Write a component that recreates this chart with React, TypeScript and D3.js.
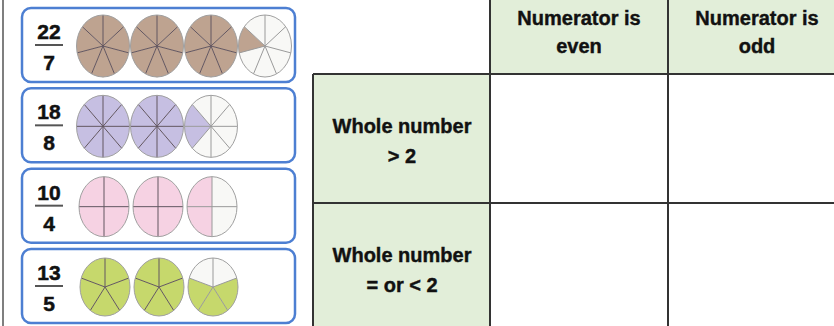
import React from "react";
import * as d3 from "d3";

const numerators = [22, 18, 10, 13];
const denominators = [7, 8, 4, 5];
const fillColors = ["#bea390", "#c6bfe2", "#f6d2e3", "#c6d86c"];
const columnLabels = [["Numerator is", "even"], ["Numerator is", "odd"]];
const rowLabels = [["Whole number", "> 2"], ["Whole number", "= or < 2"]];

const W = 834;
const H = 326;

export default function App() {
  const cardY = d3.scaleLinear().domain([0, 3]).range([8, 249]);
  const circleX = d3.scaleLinear().domain([0, 3]).range([103, 265]);
  const colX = [490, 668, 846];
  const rowY = [74, 203, 340];
  const R = 30;
  const arc = d3.arc<any>().innerRadius(0).outerRadius(R);
  const font = "'Liberation Sans', Arial, sans-serif";

  const isShaded = (d: number, filled: number, s: number) => {
    if (filled === d) return true;
    if (d === 4) return s >= d - filled;
    if (d === 5) return s >= 1 && s < 1 + filled;
    return s >= d - 1 - filled && s < d - 1;
  };

  return (
    <div style={{ position: "absolute", left: 0, top: 0 }}>
      <svg width={W} height={H} style={{ display: "block", background: "#fff" }}>
        <line x1={3} x2={3} y1={0} y2={H} stroke="#555" strokeWidth={1.5} />
        {numerators.map((n, k) => {
          const d = denominators[k];
          const top = cardY(k);
          const cy = top + 38;
          const count = Math.ceil(n / d);
          const rx = k >= 2 ? 25 : 26.5;
          const ry = k === 3 ? 29 : k === 2 ? 30 : 31;
          const step = (2 * Math.PI) / d;
          return (
            <g key={k}>
              <rect x={22} y={top} width={273} height={74} rx={9} fill="#fff" stroke="#4d7fd2" strokeWidth={2.5} />
              <text x={49} y={top + 31} textAnchor="middle" fontFamily={font} fontWeight="bold" fontSize={21} fill="#111" stroke="#111" strokeWidth={0.5}>{n}</text>
              <line x1={35} x2={63} y1={top + 37} y2={top + 37} stroke="#555" strokeWidth={2} />
              <text x={49} y={top + 62} textAnchor="middle" fontFamily={font} fontWeight="bold" fontSize={21} fill="#111" stroke="#111" strokeWidth={0.5}>{d}</text>
              {d3.range(count).map((c) => {
                const filled = Math.min(d, n - c * d);
                return (
                  <g key={c} transform={`translate(${circleX(c) + (k === 3 ? 2 : k === 2 ? 1 : 0)},${cy}) scale(${rx / R},${ry / R})`}>
                    {d3.range(d).map((s) => {
                      const a0 = s * step;
                      return (
                        <path key={s}
                          d={arc({ startAngle: a0, endAngle: a0 + step }) as string}
                          fill={isShaded(d, filled, s) ? fillColors[k] : "#f8f8f6"}
                          stroke="none" />
                      );
                    })}
                    {d3.range(d).map((s) => {
                      const a = s * step;
                      return (
                        <line key={"l" + s} x1={0} y1={0} x2={R * Math.sin(a)} y2={-R * Math.cos(a)}
                          stroke={filled === d ? "#625660" : "#9a9a9a"} strokeWidth={1} vectorEffect="non-scaling-stroke" />
                      );
                    })}
                    <circle r={R} fill="none" stroke="#a0a0a0" strokeWidth={1} vectorEffect="non-scaling-stroke" />
                  </g>
                );
              })}
            </g>
          );
        })}

        {columnLabels.map((lab, i) => (
          <rect key={"ch" + i} x={colX[i]} y={0} width={colX[i + 1] - colX[i]} height={rowY[0]} fill="#e2eed9" />
        ))}
        {rowLabels.map((lab, i) => (
          <rect key={"rh" + i} x={313} y={rowY[i]} width={colX[0] - 313} height={rowY[i + 1] - rowY[i]} fill="#e2eed9" />
        ))}
        <line x1={313} x2={W} y1={rowY[0]} y2={rowY[0]} stroke="#333" strokeWidth={2} />
        <line x1={313} x2={W} y1={rowY[1]} y2={rowY[1]} stroke="#333" strokeWidth={2} />
        <line x1={313} x2={313} y1={rowY[0]} y2={H} stroke="#333" strokeWidth={2} />
        <line x1={colX[0]} x2={colX[0]} y1={0} y2={H} stroke="#333" strokeWidth={2} />
        <line x1={colX[1]} x2={colX[1]} y1={0} y2={H} stroke="#333" strokeWidth={2} />

        {columnLabels.map((lab, i) => (
          <text key={"ct" + i} textAnchor="middle" fontFamily={font} fontWeight="bold" fontSize={20} fill="#111" stroke="#111" strokeWidth={0.4}>
            <tspan x={(colX[i] + colX[i + 1]) / 2} y={25}>{lab[0]}</tspan>
            <tspan x={(colX[i] + colX[i + 1]) / 2} y={53}>{lab[1]}</tspan>
          </text>
        ))}
        {rowLabels.map((lab, i) => (
          <text key={"rt" + i} textAnchor="middle" fontFamily={font} fontWeight="bold" fontSize={20} fill="#111" stroke="#111" strokeWidth={0.4}>
            <tspan x={402} y={rowY[i] + 59}>{lab[0]}</tspan>
            <tspan x={402} y={rowY[i] + 89}>{lab[1]}</tspan>
          </text>
        ))}
      </svg>
    </div>
  );
}
